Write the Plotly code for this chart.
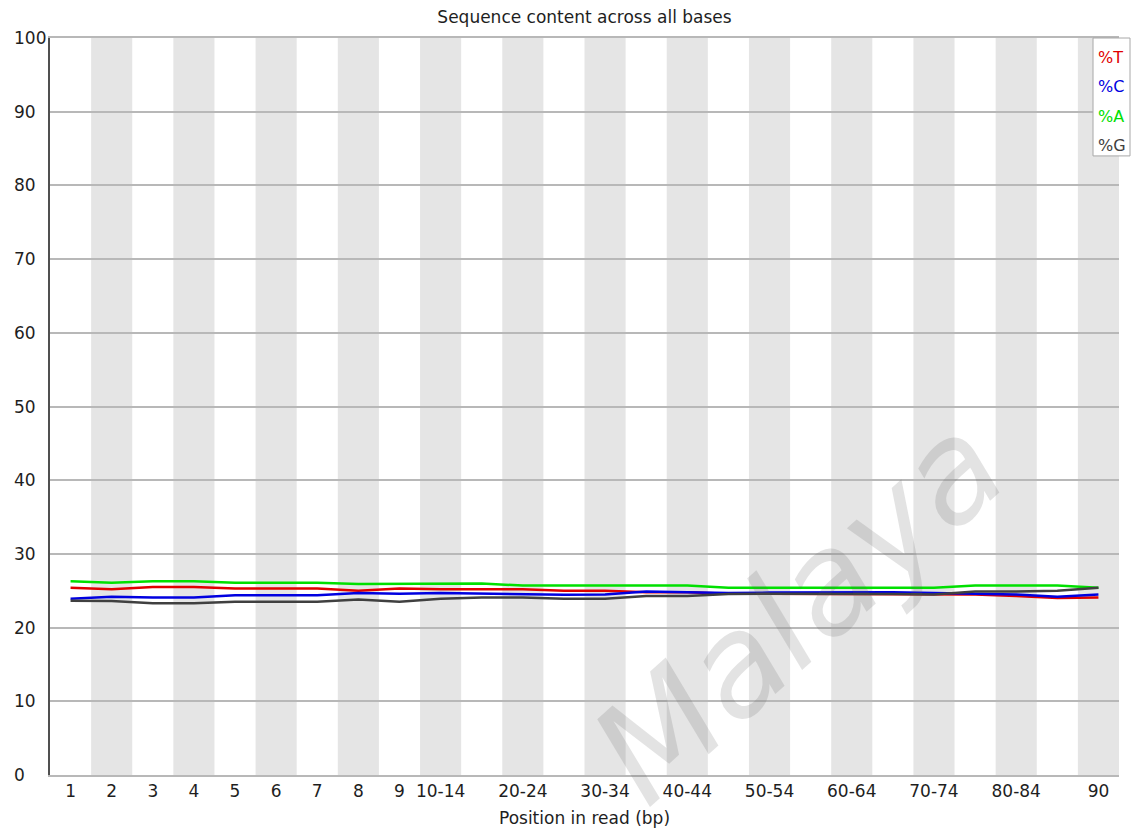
import plotly.graph_objects as go

categories = ["1", "2", "3", "4", "5", "6", "7", "8", "9", "10-14", "15-19", "20-24",
              "25-29", "30-34", "35-39", "40-44", "45-49", "50-54", "55-59", "60-64",
              "65-69", "70-74", "75-79", "80-84", "85-89", "90"]

pct_T = [25.4, 25.2, 25.5, 25.5, 25.3, 25.3, 25.3, 25.0, 25.3, 25.2, 25.2, 25.2, 25.0,
         25.0, 24.8, 24.8, 24.6, 24.6, 24.6, 24.6, 24.6, 24.6, 24.5, 24.3, 24.0, 24.1]
pct_C = [23.9, 24.2, 24.1, 24.1, 24.4, 24.4, 24.4, 24.7, 24.6, 24.7, 24.6, 24.55, 24.45,
         24.5, 24.9, 24.8, 24.7, 24.75, 24.8, 24.8, 24.8, 24.7, 24.6, 24.5, 24.2, 24.5]
pct_A = [26.3, 26.1, 26.3, 26.3, 26.1, 26.1, 26.1, 25.9, 25.9, 25.9, 26.0, 25.7, 25.7,
         25.7, 25.7, 25.7, 25.4, 25.4, 25.45, 25.4, 25.4, 25.4, 25.7, 25.7, 25.7, 25.4]
pct_G = [23.65, 23.6, 23.3, 23.3, 23.5, 23.5, 23.5, 23.8, 23.5, 23.9, 24.1, 24.1, 23.9,
         23.9, 24.3, 24.3, 24.55, 24.6, 24.55, 24.55, 24.55, 24.5, 24.9, 24.9, 25.0, 25.4]

shown_x_labels = ["1", "2", "3", "4", "5", "6", "7", "8", "9", "10-14", "20-24", "30-34",
                  "40-44", "50-54", "60-64", "70-74", "80-84", "90"]
y_ticks = [0, 10, 20, 30, 40, 50, 60, 70, 80, 90, 100]

series_names = ["%T", "%C", "%A", "%G"]
series_values = [pct_T, pct_C, pct_A, pct_G]
series_colors = ["#e00000", "#0000e0", "#00e000", "#404040"]

FONT = "DejaVu Sans"
TEXT = "#1e1e1e"

fig = go.Figure()
for name, vals, col in zip(series_names, series_values, series_colors):
    fig.add_trace(go.Scatter(x=categories, y=vals, mode="lines", name=name,
                             line=dict(color=col, width=2.5), showlegend=False))

shapes = []
# alternating background stripes (one per category, odd indices gray)
for i in range(len(categories)):
    if i % 2 == 1:
        shapes.append(dict(type="rect", xref="x", yref="paper", x0=i - 0.5, x1=i + 0.5,
                           y0=0, y1=1, fillcolor="#e5e5e5", line=dict(width=0),
                           layer="below"))
# legend box
shapes.append(dict(type="rect", xref="paper", yref="paper", x0=0.9757, x1=1.0103,
                   y0=0.84, y1=1.0, fillcolor="white",
                   line=dict(color="#a8a8a8", width=1), layer="above"))

annotations = []
for v in y_ticks:
    annotations.append(dict(xref="paper", yref="y", x=0, y=v, xshift=-38,
                            xanchor="left", yanchor="middle", text=str(v),
                            showarrow=False, font=dict(family=FONT, size=17, color=TEXT)))
legend_y = [0.973, 0.934, 0.893, 0.854]
for name, col, yy in zip(series_names, series_colors, legend_y):
    annotations.append(dict(xref="paper", yref="paper", x=0.9785, y=yy, xanchor="left",
                            yanchor="middle", text=name, showarrow=False,
                            font=dict(family=FONT, size=16, color=col)))
# watermark
annotations.append(dict(xref="paper", yref="paper", x=0.70, y=0.225, text="Malaya",
                        showarrow=False, textangle=-42, xanchor="center", yanchor="middle",
                        font=dict(family=FONT, size=138, color="rgba(90,90,90,0.17)",
                                  style="italic")))

fig.update_layout(
    width=1134, height=834,
    margin=dict(l=50, r=15, t=38, b=59),
    paper_bgcolor="white", plot_bgcolor="white",
    font=dict(family=FONT, size=17, color=TEXT),
    title=dict(text="Sequence content across all bases", x=0.5, xref="paper",
               y=1 - 17 / 834, yref="container", xanchor="center", yanchor="middle",
               font=dict(family=FONT, size=17, color=TEXT)),
    shapes=shapes,
    annotations=annotations,
    xaxis=dict(type="category", categoryorder="array", categoryarray=categories,
               range=[-0.5, len(categories) - 0.5], tickmode="array",
               tickvals=shown_x_labels, ticktext=shown_x_labels, ticks="",
               showgrid=False, showline=True, mirror=True, linecolor="#b8b8b8",
               linewidth=2, tickfont=dict(family=FONT, size=17, color=TEXT),
               title=dict(text="Position in read (bp)", standoff=12,
                          font=dict(family=FONT, size=17, color=TEXT)),
               automargin=False, fixedrange=True),
    yaxis=dict(range=[0, 100], tickmode="array", tickvals=y_ticks, showticklabels=False,
               ticks="", showgrid=True, gridcolor="#b8b8b8", gridwidth=1.5,
               zeroline=False, showline=True, linecolor="#505050", linewidth=1.5,
               automargin=False, fixedrange=True),
    showlegend=False,
)

fig.write_html("out.html", config={"displayModeBar": False},
               post_script="document.body.style.margin='0px';document.body.style.overflow='hidden';")
